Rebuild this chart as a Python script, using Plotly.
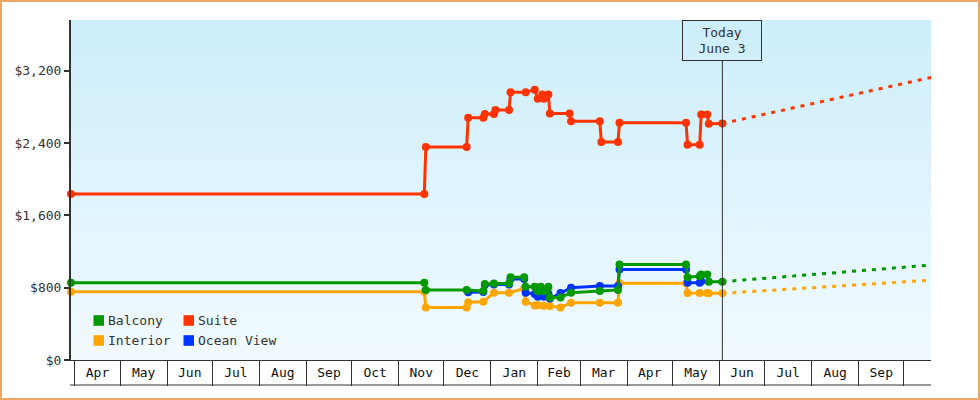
import pandas as pd
import plotly.graph_objects as go

# ---------------- data ----------------
suite_dates = ["2024-03-29 12:00", "2024-11-18", "2024-11-19", "2024-12-16", "2024-12-17",
               "2024-12-27", "2024-12-28", "2025-01-03", "2025-01-04", "2025-01-13",
               "2025-01-14", "2025-01-24", "2025-01-30", "2025-02-01", "2025-02-04",
               "2025-02-05", "2025-02-08", "2025-02-09", "2025-02-22", "2025-02-23",
               "2025-03-14", "2025-03-15", "2025-03-26", "2025-03-27", "2025-05-10",
               "2025-05-11", "2025-05-19", "2025-05-20", "2025-05-24", "2025-05-25",
               "2025-06-03"]
suite_prices = [1835, 1835, 2355, 2355, 2680, 2680, 2720, 2720, 2765, 2765,
                2960, 2960, 2990, 2890, 2935, 2890, 2935, 2725, 2725, 2640,
                2640, 2410, 2410, 2625, 2625, 2380, 2380, 2715, 2715, 2612,
                2615]

balcony_dates = ["2024-03-29 12:00", "2024-11-18", "2024-11-19", "2024-12-16", "2024-12-27",
                 "2024-12-28", "2025-01-03", "2025-01-13", "2025-01-14", "2025-01-23",
                 "2025-01-24", "2025-01-30", "2025-02-01", "2025-02-03", "2025-02-05",
                 "2025-02-08", "2025-02-09", "2025-02-16", "2025-02-23", "2025-03-14",
                 "2025-03-26", "2025-03-27", "2025-05-10", "2025-05-11", "2025-05-19",
                 "2025-05-20", "2025-05-24", "2025-05-25", "2025-06-03"]
balcony_prices = [855, 855, 773, 773, 762, 840, 845, 845, 915, 915,
                  810, 810, 760, 810, 760, 810, 690, 690, 745, 762,
                  775, 1057, 1057, 915, 925, 945, 945, 866, 866]

interior_dates = ["2024-03-29 12:00", "2024-11-18", "2024-11-19", "2024-12-16", "2024-12-17",
                  "2024-12-27", "2025-01-03", "2025-01-13", "2025-01-23", "2025-01-24",
                  "2025-01-30", "2025-02-01", "2025-02-05", "2025-02-09", "2025-02-16",
                  "2025-02-23", "2025-03-14", "2025-03-26", "2025-03-27", "2025-05-10",
                  "2025-05-11", "2025-05-19", "2025-05-24", "2025-05-25", "2025-06-03"]
interior_prices = [755, 755, 580, 580, 640, 645, 745, 745, 790, 645,
                   604, 605, 600, 596, 580, 634, 634, 634, 850, 850,
                   740, 740, 740, 737, 737]

ocean_dates = ["2024-12-17", "2024-12-27", "2024-12-28", "2025-01-03", "2025-01-13",
               "2025-01-14", "2025-01-23", "2025-01-24", "2025-01-30", "2025-02-01",
               "2025-02-05", "2025-02-08", "2025-02-09", "2025-02-16", "2025-02-23",
               "2025-03-14", "2025-03-26", "2025-03-27", "2025-05-10", "2025-05-11",
               "2025-05-19", "2025-05-20"]
ocean_prices = [750, 752, 830, 835, 835, 895, 895, 745, 730, 700,
                700, 735, 680, 740, 800, 817, 817, 1002, 1002, 855,
                855, 870]

forecast_dates = ["2025-06-03", "2025-10-19"]
suite_forecast = [2615, 3125]
balcony_forecast = [866, 1050]
interior_forecast = [737, 883]

month_labels = ["Apr", "May", "Jun", "Jul", "Aug", "Sep", "Oct", "Nov", "Dec",
                "Jan", "Feb", "Mar", "Apr", "May", "Jun", "Jul", "Aug", "Sep"]
y_ticks = [0, 800, 1600, 2400, 3200]
today_date = "2025-06-03"
today_text = "Today<br>June 3"

# ---------------- styling ----------------
X_START, X_END = "2024-03-29 12:00", "2025-10-18 21:00"
Y_MAX = 3760
W, H = 980, 400
L, R, T, B = 71, 49, 20, 40
PW, PH = W - L - R, H - T - B
FONT = "DejaVu Sans Mono"
DARK = "#333333"
C_SUITE, C_BAL, C_INT, C_OCE = "#ff3300", "#009900", "#ffa500", "#0033ff"


def px(x):
    return (x - L) / PW


def py(y):
    return (T + PH - y) / PH


month_starts = pd.date_range("2024-04-01", periods=len(month_labels) + 1, freq="MS")
mid_months = [s + (e - s) / 2 for s, e in zip(month_starts[:-1], month_starts[1:])]

fig = go.Figure()

# gradient background
fig.add_trace(go.Scatter(
    x=[X_START, X_END, X_END, X_START, X_START], y=[0, 0, Y_MAX, Y_MAX, 0],
    mode="lines", line=dict(width=0), fill="toself",
    fillgradient=dict(type="vertical", start=0, stop=Y_MAX,
                      colorscale=[[0, "#f1faff"], [1, "#cdeefb"]]),
    hoverinfo="skip", showlegend=False))


def series(dates, vals, color):
    fig.add_trace(go.Scatter(
        x=dates, y=vals, mode="lines+markers",
        line=dict(color=color, width=3),
        marker=dict(color=color, size=8, symbol="circle"),
        cliponaxis=False, hoverinfo="skip", showlegend=False))


def forecast(vals, color):
    fig.add_trace(go.Scatter(
        x=forecast_dates, y=vals, mode="lines",
        line=dict(color=color, width=3, dash="4px,6px"),
        hoverinfo="skip", showlegend=False))


series(interior_dates, interior_prices, C_INT)
series(ocean_dates, ocean_prices, C_OCE)
series(balcony_dates, balcony_prices, C_BAL)
series(suite_dates, suite_prices, C_SUITE)
forecast(suite_forecast, C_SUITE)
forecast(balcony_forecast, C_BAL)
forecast(interior_forecast, C_INT)

shapes = [
    # today line
    dict(type="line", xref="x", yref="paper", x0=today_date, x1=today_date,
         y0=0, y1=py(60.5), line=dict(color=DARK, width=1)),
    # bottom line of month row
    dict(type="line", xref="paper", yref="paper", x0=px(70), x1=1,
         y0=py(385), y1=py(385), line=dict(color=DARK, width=1)),
    # outer border
    dict(type="rect", xref="paper", yref="paper", x0=px(1), x1=px(W - 1),
         y0=py(H - 1), y1=py(1), line=dict(color="#e9a964", width=2)),
]

annotations = [
    dict(x=today_date, xref="x", y=1, yref="paper", xanchor="center", yanchor="top",
         text=today_text, showarrow=False, bordercolor=DARK, borderwidth=1, borderpad=0,
         width=78, height=39, font=dict(family=FONT, size=13, color=DARK)),
]

legend_items = [("Balcony", C_BAL, 93.5, 320.5), ("Suite", C_SUITE, 183.5, 320.5),
                ("Interior", C_INT, 93.5, 340.5), ("Ocean View", C_OCE, 183.5, 340.5)]
for name, col, lx, ly in legend_items:
    shapes.append(dict(type="rect", xref="paper", yref="paper",
                       x0=px(lx), x1=px(lx + 10.5), y0=py(ly + 5.3), y1=py(ly - 5.3),
                       fillcolor=col, line=dict(width=0)))
    annotations.append(dict(x=px(lx + 12), xref="paper", y=py(ly), yref="paper",
                            xanchor="left", yanchor="middle", text=name, showarrow=False,
                            font=dict(family=FONT, size=13, color=DARK)))

fig.update_layout(
    width=W, height=H, margin=dict(l=L, r=R, t=T, b=B),
    paper_bgcolor="white", plot_bgcolor="rgba(0,0,0,0)",
    font=dict(family=FONT, size=13, color=DARK),
    showlegend=False, shapes=shapes, annotations=annotations,
    xaxis=dict(range=[X_START, X_END], type="date", showgrid=False, zeroline=False,
               showline=True, linecolor=DARK, linewidth=1,
               tickmode="array", tickvals=mid_months, ticktext=month_labels, ticks="",
               tickfont=dict(family=FONT, size=13, color="#111111"),
               minor=dict(tickmode="array", tickvals=list(month_starts), ticks="outside",
                          ticklen=25, tickwidth=1, tickcolor=DARK, showgrid=False)),
    yaxis=dict(range=[0, Y_MAX], showgrid=False, zeroline=False,
               showline=True, linecolor=DARK, linewidth=2,
               tickmode="array", tickvals=y_ticks, tickformat="$,.0f",
               ticks="outside", ticklen=5, tickwidth=2, tickcolor=DARK,
               tickfont=dict(family=FONT, size=13, color=DARK)),
)

fig.write_html("out.html", config={"displayModeBar": False})
